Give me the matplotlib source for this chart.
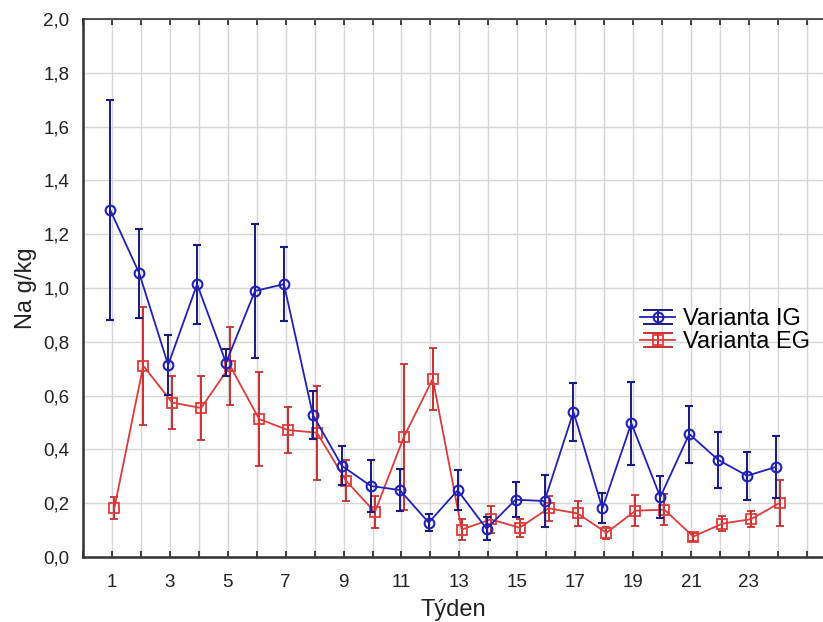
import matplotlib
matplotlib.use("Agg")
import matplotlib.pyplot as plt
from matplotlib.lines import Line2D
from matplotlib.container import ErrorbarContainer
from matplotlib.legend_handler import HandlerErrorbar
from matplotlib.ticker import FuncFormatter, MultipleLocator
import numpy as np

plt.rcParams['font.family'] = ['Liberation Sans', 'DejaVu Sans']

weeks = list(range(1, 25))

ig_mean = [1.29, 1.055, 0.714, 1.014, 0.722, 0.989, 1.014, 0.528, 0.339, 0.264,
           0.249, 0.128, 0.248, 0.105, 0.213, 0.208, 0.539, 0.181, 0.497, 0.223,
           0.457, 0.361, 0.302, 0.335]
ig_err = [0.41, 0.165, 0.11, 0.147, 0.05, 0.25, 0.137, 0.09, 0.072, 0.095,
          0.078, 0.03, 0.075, 0.042, 0.066, 0.095, 0.108, 0.056, 0.154, 0.078,
          0.106, 0.103, 0.09, 0.114]

eg_mean = [0.181, 0.711, 0.574, 0.554, 0.711, 0.513, 0.472, 0.462, 0.284, 0.167,
           0.446, 0.662, 0.102, 0.14, 0.109, 0.181, 0.162, 0.09, 0.172, 0.176,
           0.076, 0.124, 0.141, 0.202]
eg_err = [0.041, 0.22, 0.1, 0.12, 0.145, 0.175, 0.087, 0.175, 0.077, 0.058,
          0.27, 0.115, 0.04, 0.05, 0.033, 0.046, 0.047, 0.022, 0.058, 0.058,
          0.015, 0.028, 0.031, 0.086]

labels = ["Varianta IG", "Varianta EG"]

blue = "#2020bc"
blue_err = "#1a1a80"
red = "#e03a3a"
red_err = "#c83030"

fig = plt.figure(figsize=(8.23, 6.22), dpi=100)
ax = fig.add_axes([0.1009, 0.1045, 0.8991, 0.865])

x = np.array(weeks, dtype=float)
ax.errorbar(x - 0.06, ig_mean, yerr=ig_err, color=blue, ecolor=blue_err,
            marker='o', markersize=7, markerfacecolor='none', markeredgewidth=1.5,
            linewidth=1.3, elinewidth=1.4, capsize=3, capthick=1.2,
            label=labels[0], zorder=4)
ax.errorbar(x + 0.08, eg_mean, yerr=eg_err, color=red, ecolor=red_err,
            marker='s', markersize=7, markerfacecolor='none', markeredgewidth=1.3,
            linewidth=1.3, elinewidth=1.4, capsize=3, capthick=1.2,
            label=labels[1], zorder=3)

ax.set_xlim(0, 25.56)
ax.set_ylim(0, 2.0)
ax.xaxis.set_major_locator(MultipleLocator(1))
ax.yaxis.set_major_locator(MultipleLocator(0.2))
ax.xaxis.set_major_formatter(FuncFormatter(
    lambda v, p: f"{int(round(v))}" if (int(round(v)) % 2 == 1 and 1 <= v <= 23) else ""))
ax.yaxis.set_major_formatter(FuncFormatter(lambda v, p: f"{v:.1f}".replace('.', ',')))

ax.grid(True, color="#d6d6d6", linewidth=1.0)
ax.set_axisbelow(True)

ax.tick_params(axis='x', direction='in', length=4, width=1.2, top=True,
               labelsize=13.5, pad=12, colors="#222222")
ax.tick_params(axis='y', length=0, labelsize=13.5, pad=10, colors="#222222")

for s in ['left', 'bottom']:
    ax.spines[s].set_linewidth(1.8)
    ax.spines[s].set_color("#333333")
ax.spines['top'].set_linewidth(1.2)
ax.spines['top'].set_color("#333333")
ax.spines['right'].set_visible(False)

ax.set_xlabel("Týden", fontsize=17, labelpad=6, color="#222222")
ax.set_ylabel("Na g/kg", fontsize=17, labelpad=4, color="#222222")

leg = ax.legend(loc='upper left', bbox_to_anchor=(0.74, 0.48), frameon=False,
                fontsize=17, handlelength=1.5, handletextpad=0.3,
                labelspacing=0.05, borderaxespad=0,
                handler_map={ErrorbarContainer: HandlerErrorbar(yerr_size=0.3)})
# widen the error-bar caps drawn in the legend keys
for ln in leg.findobj(Line2D):
    if ln.get_marker() == '_':
        ln.set_markersize(22)
        ln.set_markeredgewidth(1.4)

fig.savefig("out.png", dpi=100)
